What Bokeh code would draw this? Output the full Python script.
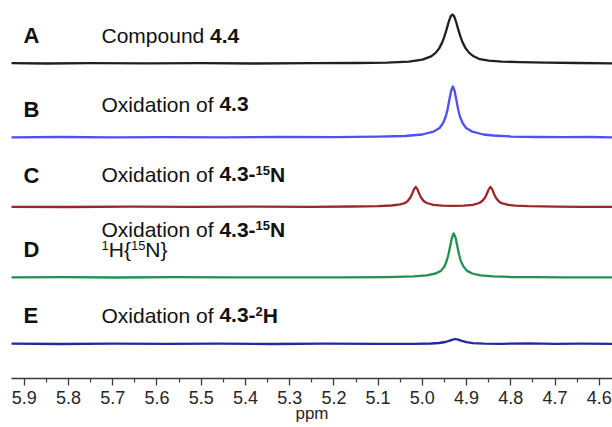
from bokeh.plotting import figure
from bokeh.models import Range1d, FixedTicker, NumeralTickFormatter, Label
from bokeh.embed import file_html
from bokeh.resources import INLINE

# ---------------------------------------------------------------- data
# 1H NMR traces (chemical shift in ppm, intensity in arbitrary units)
ppm_a = [5.93, 5.85, 5.75, 5.62, 5.50, 5.38, 5.25, 5.15, 5.08, 5.03, 5.00, 4.98,
         4.97, 4.962, 4.955, 4.950, 4.945, 4.940, 4.936, 4.932, 4.928, 4.924,
         4.919, 4.914, 4.909, 4.902, 4.894, 4.884, 4.870, 4.850, 4.820, 4.780,
         4.720, 4.650, 4.570]
int_a = [0.3, 0.0, 0.4, 0.1, 0.3, 0.0, 0.3, 0.5, 0.9, 1.9, 3.9, 7.2,
         10.6, 15.1, 21.1, 27.1, 34.4, 42.2, 47.1, 49.0, 47.1, 42.2,
         34.4, 27.1, 21.1, 15.1, 10.6, 7.2, 4.3, 2.8, 1.9, 1.4,
         0.9, 0.5, 0.2]

ppm_b = [5.93, 5.82, 5.70, 5.58, 5.45, 5.32, 5.20, 5.10, 5.04, 5.00, 4.975,
         4.961, 4.953, 4.947, 4.943, 4.939, 4.935, 4.931, 4.927, 4.923, 4.919,
         4.915, 4.909, 4.901, 4.887, 4.862, 4.84, 4.80, 4.74, 4.68, 4.62, 4.57]
int_b = [0.2, 0.5, 0.1, 0.4, 0.2, 0.5, 0.3, 0.8, 1.5, 3.0, 5.8,
         9.5, 14.5, 21.0, 28.0, 37.5, 46.5, 51.0, 46.5, 37.5, 28.0,
         21.0, 14.5, 9.5, 5.8, 3.0, 2.0, 1.0, 0.5, 0.3, 0.5, 0.2]

ppm_c = [5.93, 5.80, 5.66, 5.52, 5.38, 5.25, 5.16, 5.10, 5.07, 5.05, 5.040,
         5.033, 5.027, 5.023, 5.019, 5.015, 5.011, 5.007, 5.003, 4.997, 4.990,
         4.975, 4.955, 4.931, 4.906, 4.886, 4.871, 4.864, 4.858, 4.854, 4.850,
         4.846, 4.842, 4.838, 4.834, 4.828, 4.821, 4.806, 4.79, 4.76, 4.70,
         4.64, 4.57]
int_c = [0.2, 0.0, 0.3, 0.1, 0.3, 0.2, 0.5, 0.8, 1.5, 2.6, 3.8,
         6.0, 9.5, 13.3, 17.6, 20.0, 17.6, 13.3, 9.5, 6.0, 4.0,
         2.2, 1.4, 1.1, 1.4, 2.2, 4.0, 6.2, 9.5, 13.3, 17.6,
         20.0, 17.6, 13.3, 9.5, 6.0, 3.8, 2.2, 1.4, 0.8, 0.4,
         0.2, 0.1]

ppm_d = [5.93, 5.81, 5.69, 5.56, 5.43, 5.30, 5.18, 5.08, 5.02, 4.99, 4.970,
         4.958, 4.950, 4.945, 4.941, 4.937, 4.933, 4.929, 4.925, 4.921, 4.917,
         4.913, 4.907, 4.899, 4.887, 4.868, 4.84, 4.80, 4.74, 4.68, 4.62, 4.57]
int_d = [0.1, 0.3, 0.0, 0.3, 0.1, 0.2, 0.1, 0.4, 1.1, 2.2, 4.0,
         6.6, 11.0, 16.5, 23.0, 31.5, 40.0, 44.0, 40.0, 31.5, 23.0,
         16.5, 11.0, 6.6, 4.0, 2.2, 1.1, 0.5, 0.3, 0.1, 0.2, 0.1]

ppm_e = [5.93, 5.82, 5.70, 5.58, 5.46, 5.34, 5.22, 5.10, 5.02, 4.98, 4.962,
         4.948, 4.938, 4.931, 4.925, 4.919, 4.911, 4.900, 4.886, 4.86, 4.82,
         4.76, 4.70, 4.64, 4.57]
int_e = [0.3, 0.0, 0.4, 0.1, 0.4, 0.0, 0.3, 0.1, 0.2, 0.5, 1.0,
         2.0, 3.3, 4.4, 5.0, 4.4, 3.2, 1.8, 0.8, 0.3, 0.2,
         0.6, 0.2, 0.4, 0.1]

trace_letters = ["A", "B", "C", "D", "E"]

# description of each trace as runs of (text, bold, superscript)
trace_titles = [
    [[("Compound ", False, False), ("4.4", True, False)]],
    [[("Oxidation of ", False, False), ("4.3", True, False)]],
    [[("Oxidation of ", False, False), ("4.3-", True, False), ("15", True, True), ("N", True, False)]],
    [[("Oxidation of ", False, False), ("4.3-", True, False), ("15", True, True), ("N", True, False)],
     [("1", False, True), ("H{", False, False), ("15", False, True), ("N}", False, False)]],
    [[("Oxidation of ", False, False), ("4.3-", True, False), ("2", True, True), ("H", True, False)]],
]

tick_ppm = [5.9, 5.8, 5.7, 5.6, 5.5, 5.4, 5.3, 5.2, 5.1, 5.0, 4.9, 4.8, 4.7, 4.6]
minor_ppm = [5.95, 5.85, 5.75, 5.65, 5.55, 5.45, 5.35, 5.25, 5.15, 5.05,
             4.95, 4.85, 4.75, 4.65]
x_title = "ppm"

# ---------------------------------------------------------------- layout
FONT = "Liberation Sans"
FRAME_H = 378           # plot frame height in px (data y == px above axis)
colors = ["#141414", "#4646f2", "#951c1f", "#178a48", "#1c1c96"]
offsets = [315, 241, 171.5, 101, 34.5]          # vertical stacking of traces
letter_base = [43.3, 116.7, 183.3, 256.7, 322.7]  # baseline (px from top)
title_base = [[43.3], [111.7], [181.7], [237.0, 257.0], [322.7]]

p = figure(width=612, height=427, output_backend="svg", toolbar_location=None,
           x_range=Range1d(5.929, 4.570), y_range=Range1d(0, FRAME_H),
           y_axis_location=None, min_border_left=11, min_border_right=0,
           min_border_top=0, min_border_bottom=49)
p.outline_line_color = None
p.xgrid.visible = False
p.ygrid.visible = False
p.background_fill_color = "white"
p.border_fill_color = "white"

traces = [(ppm_a, int_a), (ppm_b, int_b), (ppm_c, int_c), (ppm_d, int_d), (ppm_e, int_e)]
for (xs, ys), off, col in zip(traces, offsets, colors):
    p.line(xs, [v + off for v in ys], line_color=col, line_width=2.3,
           line_join="round", line_alpha=0.95)

# axis styling
ax = p.xaxis[0]
ax.ticker = FixedTicker(ticks=tick_ppm, minor_ticks=minor_ppm)
ax.formatter = NumeralTickFormatter(format="0.0")
ax.axis_line_color = "#3a3a3a"
ax.axis_line_width = 1.4
ax.major_tick_line_color = "#3a3a3a"
ax.major_tick_line_width = 1.3
ax.minor_tick_line_color = "#3a3a3a"
ax.minor_tick_line_width = 1.2
ax.major_tick_out = 7
ax.major_tick_in = 0
ax.minor_tick_out = 4
ax.minor_tick_in = 0
ax.major_label_text_font = FONT
ax.major_label_text_font_size = "18px"
ax.major_label_text_color = "#262626"
ax.major_label_standoff = 5
ax.axis_label = x_title
ax.axis_label_text_font = FONT
ax.axis_label_text_font_size = "17px"
ax.axis_label_text_font_style = "normal"
ax.axis_label_text_color = "#262626"
ax.axis_label_standoff = -3

# Helvetica/Arial advance widths (1/1000 em) for the characters used
REG_W = {' ': 278, '{': 334, '}': 334, '-': 333, '.': 278, '1': 556, '2': 556,
         '3': 556, '4': 556, '5': 556, 'C': 722, 'H': 722, 'N': 722, 'O': 778,
         'a': 556, 'd': 556, 'f': 278, 'i': 222, 'm': 833, 'n': 556, 'o': 556,
         'p': 556, 't': 278, 'u': 556, 'x': 500}
BOLD_W = {' ': 278, '-': 333, '.': 278, '1': 556, '2': 556, '3': 556, '4': 556,
          '5': 556, 'A': 722, 'B': 722, 'C': 722, 'D': 722, 'E': 667,
          'H': 722, 'N': 722}

MAIN_SIZE = 21
LETTER_SIZE = 22
SUP_SIZE = 13
SUP_RAISE = 3.8
BASE_SHIFT = 8.0        # label baseline correction in px
LEFT = 11       # frame left edge in px


def text_width(s, bold, size):
    table = BOLD_W if bold else REG_W
    return sum(table.get(ch, 556) for ch in s) * size / 1000.0


def add_runs(runs, x_px, base_px, main_size=MAIN_SIZE):
    x = x_px
    for txt, bold, sup in runs:
        size = SUP_SIZE if sup else main_size
        y = FRAME_H - base_px + (SUP_RAISE if sup else 0) + BASE_SHIFT
        p.add_layout(Label(x=x - LEFT, y=y, x_units="screen", y_units="screen",
                           text=txt, text_font=FONT, text_font_size=f"{size}px",
                           text_font_style="bold" if bold else "normal",
                           text_color="#111111", text_baseline="alphabetic",
                           text_align="left"))
        x += text_width(txt, bold, size)


for letter, lb, lines, tbs in zip(trace_letters, letter_base, trace_titles, title_base):
    add_runs([(letter, True, False)], 23, lb, LETTER_SIZE)
    for runs, tb in zip(lines, tbs):
        add_runs(runs, 101, tb)

open("out.html", "w").write(file_html(p, INLINE))
